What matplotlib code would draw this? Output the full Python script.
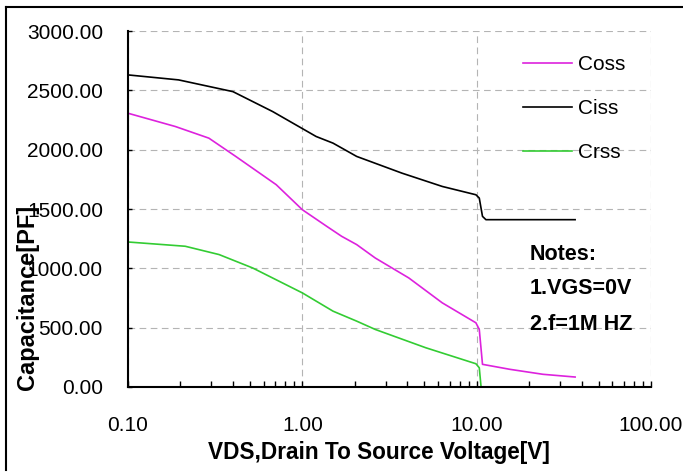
import numpy as np
import matplotlib
matplotlib.use("Agg")
import matplotlib.pyplot as plt
from matplotlib.lines import Line2D
from matplotlib.ticker import FixedLocator, LogLocator, NullFormatter

plt.rcParams['font.family'] = ['Liberation Sans', 'DejaVu Sans']

# capacitance vs drain-source voltage, pF
vds_ciss = [0.1, 0.195, 0.40, 0.676, 1.2, 1.5, 2.05, 3.73, 6.35, 9.9, 10.35, 10.8, 11.3, 36.7]
ciss = [2630, 2588, 2489, 2321, 2111, 2055, 1943, 1802, 1690, 1620, 1592, 1438, 1410, 1410]

vds_coss = [0.1, 0.187, 0.291, 0.415, 0.708, 1.0, 1.38, 1.68, 2.05, 2.62, 4.08, 6.35, 9.9, 10.35, 10.8, 15.5, 24, 36.7]
coss = [2307, 2195, 2097, 1943, 1705, 1494, 1354, 1270, 1200, 1087, 919, 709, 541, 485, 191, 149, 107, 84]

vds_crss = [0.1, 0.213, 0.333, 0.519, 1.0, 1.5, 2.05, 2.62, 5.1, 9.9, 10.35, 10.6, 36.7]
crss = [1222, 1186, 1116, 1003, 793, 639, 555, 485, 331, 196, 162, 0, 0]

y_ticks = [0, 500, 1000, 1500, 2000, 2500, 3000]
x_ticks = [0.1, 1, 10, 100]
notes = ["Notes:", "1.VGS=0V", "2.f=1M HZ"]

fig = plt.figure(figsize=(6.83, 4.75), dpi=100)
ax = fig.add_axes([128 / 683, 1 - 387 / 475, (651 - 128) / 683, (387 - 31) / 475])

ax.plot(vds_coss, coss, color='#dd22dd', lw=1.2, label='Coss')
ax.plot(vds_ciss, ciss, color='black', lw=1.2, label='Ciss')
ax.plot(vds_crss, crss, color='#33cc33', lw=1.2, label='Crss')

ax.set_xscale('log')
ax.set_xlim(0.1, 100)
ax.set_ylim(0, 3000)
ax.xaxis.set_major_locator(FixedLocator(x_ticks))
ax.xaxis.set_minor_locator(LogLocator(base=10, subs=np.arange(2, 10)))
ax.xaxis.set_minor_formatter(NullFormatter())
ax.set_xticklabels([f"{v:.2f}" for v in x_ticks])
ax.set_yticks(y_ticks)
ax.set_yticklabels([f"{v:.2f}" for v in y_ticks])

ax.tick_params(axis='both', which='both', direction='in', labelsize=15)
ax.tick_params(axis='x', which='major', length=4, width=1, pad=21)
ax.tick_params(axis='x', which='minor', length=4, width=1)
ax.tick_params(axis='y', which='major', length=3, width=1, pad=18)

for s in ['top', 'right']:
    ax.spines[s].set_visible(False)
for s in ['left', 'bottom']:
    ax.spines[s].set_linewidth(1.5)

ax.grid(True, which='major', color='#b4b4b4', linestyle=(0, (6, 4)), lw=0.8)
ax.set_axisbelow(True)

leg = ax.legend(loc='upper left', bbox_to_anchor=(523 / 683, 1 - 55 / 475),
                bbox_transform=fig.transFigure, frameon=False, fontsize=15,
                handlelength=2.35, handletextpad=0.3, labelspacing=1.2, borderpad=0,
                borderaxespad=0)

for txt, yp in zip(notes, [255, 289, 325]):
    fig.text(530 / 683, 1 - yp / 475, txt, fontsize=15.5, fontweight='bold', va='center', ha='left')

fig.text(379 / 683, 1 - 453 / 475, "VDS,Drain To Source Voltage[V]", fontsize=16.3,
         fontweight='bold', ha='center', va='center')
fig.text(28 / 683, 1 - 297 / 475, "Capacitance[PF]", fontsize=17, fontweight='bold',
         rotation=90, ha='center', va='center')

# outer frame, left and top edges
fig.add_artist(Line2D([6 / 683, 6 / 683], [1 - 470 / 475, 1 - 7 / 475], color='black', lw=1.5))
fig.add_artist(Line2D([6 / 683, 1.0], [1 - 7 / 475, 1 - 7 / 475], color='black', lw=1.5))

fig.savefig('out.png', dpi=100)
